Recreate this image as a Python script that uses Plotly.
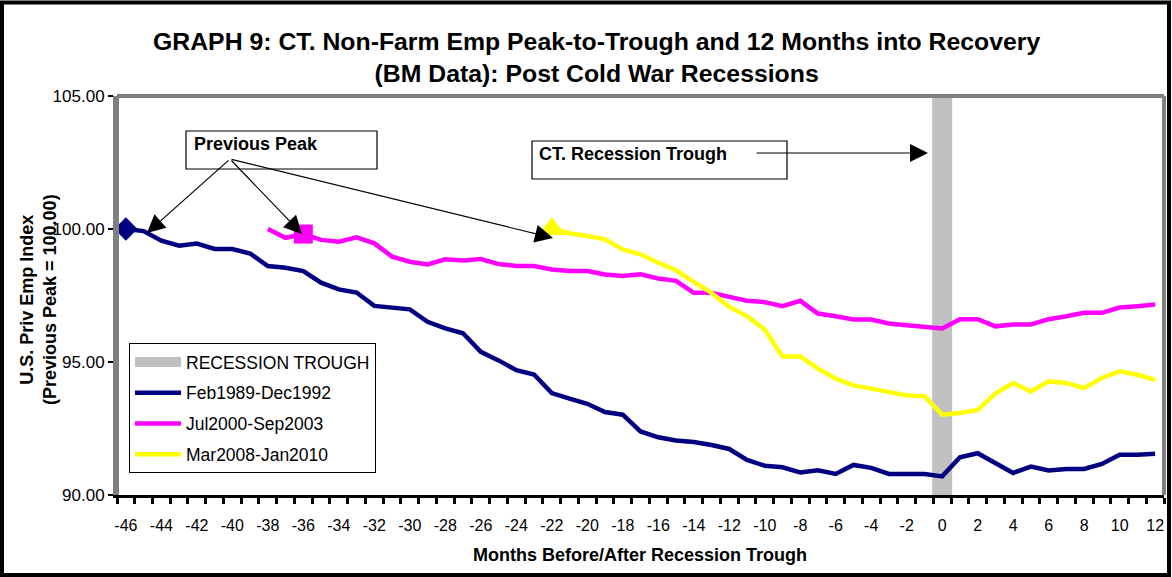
import plotly.graph_objects as go

# Months relative to the CT recession trough
months = list(range(-46, 13))
tick_months = months[::2]

# Employment index (previous peak = 100) for each cycle
feb1989_dec1992 = [
    100.00, 99.92, 99.56, 99.37, 99.45, 99.25, 99.25, 99.08, 98.61, 98.54,
    98.42, 97.98, 97.73, 97.61, 97.11, 97.05, 96.98, 96.51, 96.26, 96.08,
    95.38, 95.06, 94.69, 94.53, 93.83, 93.62, 93.43, 93.12, 93.02, 92.39,
    92.17, 92.05, 91.99, 91.88, 91.73, 91.32, 91.10, 91.04, 90.85, 90.93,
    90.79, 91.13, 91.02, 90.79, 90.79, 90.79, 90.70, 91.42, 91.57, 91.21,
    90.83, 91.07, 90.92, 90.98, 90.98, 91.17, 91.51, 91.51, 91.55,
]
jul2000_sep2003 = [None] * 8 + [
    100.00, 99.67, 99.81, 99.59, 99.52, 99.69, 99.46, 98.96, 98.77, 98.67,
    98.86, 98.82,
    98.87, 98.68, 98.61, 98.61, 98.48, 98.42, 98.42, 98.29, 98.23, 98.30,
    98.14, 98.05, 97.60, 97.60, 97.45, 97.30, 97.25, 97.10, 97.30, 96.82,
    96.72, 96.60, 96.60, 96.45, 96.38, 96.32, 96.26, 96.61, 96.61, 96.34,
    96.41, 96.41, 96.61, 96.72, 96.85, 96.85, 97.05, 97.10, 97.16,
]
mar2008_jan2010 = [None] * 24 + [
    100.00, 99.84, 99.74, 99.61, 99.23, 99.05, 98.73, 98.45, 98.01, 97.60,
    97.07, 96.72, 96.22, 95.21, 95.21, 94.75,
    94.37, 94.12, 94.00, 93.87, 93.74, 93.71, 93.02, 93.08, 93.20, 93.81,
    94.21, 93.89, 94.27, 94.21, 94.02, 94.40, 94.65, 94.52, 94.33,
]

# Month at which each cycle's previous peak is flagged
peak_months = {"feb1989": -46, "jul2000": -36, "mar2008": -22}

trough_month = 0
y_min, y_max = 90.0, 105.0
y_ticks = [90.0, 95.0, 100.0, 105.0]

FONT = "Liberation Sans, Arial, sans-serif"
NAVY, MAGENTA, YELLOW, GREY = "#000080", "#FF00FF", "#FFFF00", "#C0C0C0"

# Plot-area geometry in pixels (figure 1172 x 577)
W, H = 1172, 577
L, R, T, B = 117, 1164, 96, 495
PW, PH = R - L, B - T


def px(xp):
    return (xp - L) / PW


def py(yp):
    return (B - yp) / PH


def value_at(series, m):
    return series[months.index(m)]


fig = go.Figure()

# Recession trough band
fig.add_trace(go.Scatter(
    x=[trough_month, trough_month], y=[y_min, y_max], mode="lines",
    line=dict(color=GREY, width=20), name="RECESSION TROUGH",
    legendgroup="g0", hoverinfo="skip",
))

series = [
    ("Feb1989-Dec1992", feb1989_dec1992, NAVY, "feb1989", "diamond", 18),
    ("Jul2000-Sep2003", jul2000_sep2003, MAGENTA, "jul2000", "square", 19),
    ("Mar2008-Jan2010", mar2008_jan2010, YELLOW, "mar2008", "triangle-up", 24),
]
for i, (name, vals, color, key, symbol, size) in enumerate(series, start=1):
    fig.add_trace(go.Scatter(
        x=months, y=vals, mode="lines", name=name,
        line=dict(color=color, width=4.5), legendgroup=f"g{i}",
        connectgaps=False,
    ))
for i, (name, vals, color, key, symbol, size) in enumerate(series, start=1):
    pm = peak_months[key]
    fig.add_trace(go.Scatter(
        x=[pm], y=[value_at(vals, pm)], mode="markers",
        marker=dict(symbol=symbol, size=size, color=color, line=dict(width=0)),
        showlegend=False, legendgroup=f"g{i}", hoverinfo="skip",
    ))


def mx(xp):
    # pixel column -> month units on the x axis
    return -46.5 + (xp - L) / PW * 59.0


def vy(yp):
    # pixel row -> index units on the y axis
    return y_min + (B - yp) / PH * (y_max - y_min)


annotations = []
shapes = []

ARROW = dict(showarrow=True, arrowhead=2, arrowsize=3.0, arrowwidth=1.2,
             arrowcolor="black", standoff=0, startstandoff=0, text="")

# "Previous Peak" callout box and its three arrows
shapes.append(dict(type="rect", xref="x", yref="y",
                   x0=mx(186), x1=mx(377), y0=vy(169), y1=vy(131),
                   line=dict(color="black", width=1.2), fillcolor="white",
                   layer="above"))
annotations.append(dict(xref="x", yref="y", x=mx(192), y=vy(144),
                        xanchor="left", yanchor="middle", showarrow=False,
                        text="<b>Previous Peak</b>",
                        font=dict(family=FONT, size=18, color="black")))
for tip_x, tip_y in [(147, 233), (302, 234), (553, 238)]:
    annotations.append(dict(xref="x", yref="y", axref="x", ayref="y",
                            x=mx(tip_x), y=vy(tip_y), ax=mx(230), ay=vy(159),
                            **ARROW))

# "CT. Recession Trough" callout
shapes.append(dict(type="rect", xref="x", yref="y",
                   x0=mx(532), x1=mx(787), y0=vy(179), y1=vy(141),
                   line=dict(color="black", width=1.2), fillcolor="white",
                   layer="above"))
annotations.append(dict(xref="x", yref="y", x=mx(537), y=vy(154),
                        xanchor="left", yanchor="middle", showarrow=False,
                        text="<b>CT. Recession Trough</b>",
                        font=dict(family=FONT, size=18, color="black")))
annotations.append(dict(xref="x", yref="y", axref="x", ayref="y",
                        x=mx(928), y=vy(153), ax=mx(755), ay=vy(153),
                        **ARROW))

# Chart title (two centred lines)
annotations.append(dict(xref="paper", yref="paper", x=px(596), y=py(58),
                        xanchor="center", yanchor="middle", showarrow=False,
                        text="<b>GRAPH 9: CT. Non-Farm Emp Peak-to-Trough and 12 Months into Recovery"
                             "<br>(BM Data): Post Cold War Recessions</b>",
                        font=dict(family=FONT, size=24.8, color="black")))

# Axis titles
annotations.append(dict(xref="paper", yref="paper", x=px(38), y=py(300),
                        xanchor="center", yanchor="middle", textangle=-90,
                        showarrow=False,
                        text="<b>U.S. Priv Emp Index<br>(Previous Peak = 100.00)</b>",
                        font=dict(family=FONT, size=18, color="black")))
annotations.append(dict(xref="paper", yref="paper", x=px(640), y=py(555),
                        xanchor="center", yanchor="middle", showarrow=False,
                        text="<b>Months Before/After Recession Trough</b>",
                        font=dict(family=FONT, size=18, color="black")))

# Plot-area frame (grey) on left, top and right
for x0, y0, x1, y1 in [(0, 0, 0, 1), (0, 1, 1, 1), (1, 0, 1, 1)]:
    shapes.append(dict(type="line", xref="paper", yref="paper",
                       x0=x0, y0=y0, x1=x1, y1=y1,
                       line=dict(color="#808080", width=4), layer="above"))

# Outer chart border
shapes.append(dict(type="rect", xref="paper", yref="paper",
                   x0=px(2), x1=px(1169), y0=py(575), y1=py(2.5),
                   line=dict(color="black", width=4)))

fig.update_layout(
    width=W, height=H,
    margin=dict(l=L, r=W - R, t=T, b=H - B, pad=0),
    paper_bgcolor="white", plot_bgcolor="white",
    font=dict(family=FONT, color="black"),
    showlegend=True,
    legend=dict(x=px(129), y=py(343), xanchor="left", yanchor="top",
                bordercolor="black", borderwidth=1, bgcolor="white",
                font=dict(family=FONT, size=17.5, color="black"),
                tracegroupgap=5, traceorder="grouped", itemwidth=46),
    xaxis=dict(
        range=[-46.5, 12.5], showgrid=False, zeroline=False,
        tickmode="array", tickvals=tick_months,
        ticktext=[str(m) for m in tick_months],
        ticks="", ticklabelstandoff=14,
        tickfont=dict(family=FONT, size=16, color="black"),
        showline=True, linecolor="black", linewidth=3,
        minor=dict(tickmode="array",
                   tickvals=[m - 0.5 for m in months] + [months[-1] + 0.5],
                   ticks="outside", ticklen=6, tickwidth=3, tickcolor="black"),
    ),
    yaxis=dict(
        range=[y_min, y_max], showgrid=False, zeroline=False,
        tickmode="array", tickvals=y_ticks,
        ticktext=[f"{v:.2f}" for v in y_ticks],
        ticks="outside", ticklen=5, tickwidth=1.5, tickcolor="black",
        tickfont=dict(family=FONT, size=17, color="black"),
        showline=True, linecolor="#808080", linewidth=4,
    ),
    shapes=shapes,
    annotations=annotations,
)

fig.write_html("out.html")
